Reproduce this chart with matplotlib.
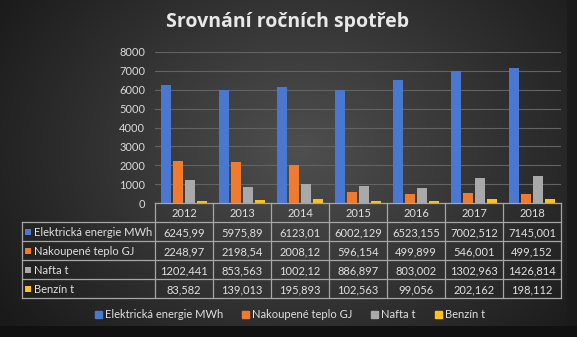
import numpy as np
import matplotlib.pyplot as plt
from matplotlib.patches import Rectangle

# roky a spotřeby
years = ['2012', '2013', '2014', '2015', '2016', '2017', '2018']
elektrina = [6245.99, 5975.89, 6123.01, 6002.129, 6523.155, 7002.512, 7145.001]
teplo = [2248.97, 2198.54, 2008.12, 596.154, 499.899, 546.001, 499.152]
nafta = [1202.441, 853.563, 1002.12, 886.897, 803.002, 1302.963, 1426.814]
benzin = [83.582, 139.013, 195.893, 102.563, 99.056, 202.162, 198.112]

series_names = ['Elektrická energie MWh', 'Nakoupené teplo GJ', 'Nafta t', 'Benzín t']
series_vals = [elektrina, teplo, nafta, benzin]
series_txt = [
    ['6245,99', '5975,89', '6123,01', '6002,129', '6523,155', '7002,512', '7145,001'],
    ['2248,97', '2198,54', '2008,12', '596,154', '499,899', '546,001', '499,152'],
    ['1202,441', '853,563', '1002,12', '886,897', '803,002', '1302,963', '1426,814'],
    ['83,582', '139,013', '195,893', '102,563', '99,056', '202,162', '198,112'],
]
colors = ['#4a77d0', '#f07a2e', '#a9a9a9', '#fdc219']

plt.rcParams['font.family'] = ['Lato', 'DejaVu Sans']
W, H = 577, 337
fig = plt.figure(figsize=(W / 100, H / 100), dpi=100)

# pozadí - radiální přechod
bg = fig.add_axes([0, 0, 1, 1])
yy, xx = np.mgrid[0:H, 0:W]
r = np.sqrt(((xx - 300) / 330) ** 2 + ((yy - 150) / 260) ** 2)
shade = np.clip(0.31 - 0.19 * r, 0.10, 0.31)
bg.imshow(np.dstack([shade] * 3), extent=(0, W, H, 0), aspect='auto')
bg.add_patch(Rectangle((567, 0), 10, H, color='#1b1b1b', lw=0))
bg.add_patch(Rectangle((0, 326), W, 11, color='#111111', lw=0))
bg.set_xlim(0, W)
bg.set_ylim(H, 0)
bg.axis('off')

# graf
x0, x1, y0, y8 = 155, 561, 203, 52
ax = fig.add_axes([x0 / W, 1 - y0 / H, (x1 - x0) / W, (y0 - y8) / H])
ax.set_facecolor('none')
x = np.arange(len(years))
pitch, bw = 0.21, 0.17
for i, (vals, c) in enumerate(zip(series_vals, colors)):
    ax.bar(x + (i - 1.5) * pitch, vals, bw, color=c, zorder=3)
ax.set_xlim(-0.5, len(years) - 0.5)
ax.set_ylim(0, 8000)
ax.set_yticks(range(0, 8001, 1000))
ax.yaxis.grid(True, color='#636363', lw=0.8, zorder=0)
ax.set_xticks([])
for s in ax.spines.values():
    s.set_visible(False)
ax.tick_params(axis='y', length=0, colors='#d9d9d9', labelsize=8, pad=7)

# tabulka s hodnotami
tb = fig.add_axes([0, 0, 1, 1])
tb.set_xlim(0, W)
tb.set_ylim(H, 0)
tb.axis('off')
lc = '#a6a6a6'
tc = '#e0e0e0'
colw = (x1 - x0) / len(years)
rows = [203, 222, 241, 260, 279, 298]
label_x = 22

# hlavička s roky
for j, yr in enumerate(years):
    cx = x0 + (j + 0.5) * colw
    tb.text(cx, (rows[0] + rows[1]) / 2 + 1, yr, color=tc, fontsize=8, ha='center', va='center')
for ry in rows:
    left = x0 if ry == rows[0] else label_x
    tb.plot([left, x1], [ry, ry], color=lc, lw=0.9)
for j in range(len(years) + 1):
    tb.plot([x0 + j * colw] * 2, [rows[0], rows[-1]], color=lc, lw=0.9)
tb.plot([label_x, label_x], [rows[1], rows[-1]], color=lc, lw=0.9)

for i, name in enumerate(series_names):
    cy = (rows[i + 1] + rows[i + 2]) / 2 + 1
    tb.add_patch(Rectangle((25, cy - 3.5), 6, 6, color=colors[i], lw=0))
    tb.text(34, cy, name, color=tc, fontsize=8, ha='left', va='center')
    for j, t in enumerate(series_txt[i]):
        tb.text(x0 + (j + 0.5) * colw, cy, t, color=tc, fontsize=8, ha='center', va='center')

# legenda
handles = [Rectangle((0, 0), 1, 1, color=c) for c in colors]
fig.legend(handles, series_names, loc='center', bbox_to_anchor=(290 / W, 1 - 315 / H),
           ncol=4, frameon=False, fontsize=8, labelcolor=tc, handlelength=0.6,
           handleheight=0.6, handletextpad=0.3, columnspacing=1.7)

fig.text(288 / W, 1 - 22 / H, 'Srovnání ročních spotřeb', color='#e8e8e8',
         fontsize=14, fontweight='bold', ha='center', va='center',
         family=['Open Sans', 'DejaVu Sans'])

fig.savefig('out.png', dpi=100)
